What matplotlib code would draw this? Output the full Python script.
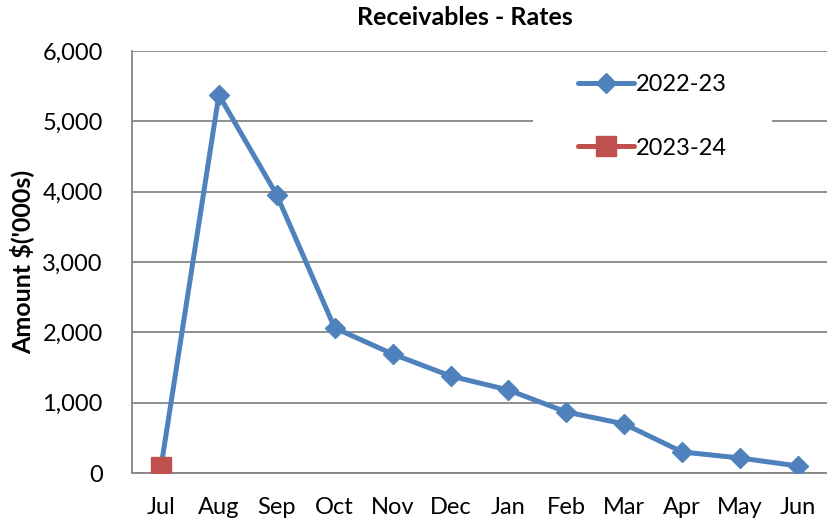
import matplotlib
matplotlib.use('Agg')
import matplotlib.pyplot as plt
from matplotlib.patches import Rectangle
from matplotlib.ticker import FuncFormatter

months = ['Jul', 'Aug', 'Sep', 'Oct', 'Nov', 'Dec', 'Jan', 'Feb', 'Mar', 'Apr', 'May', 'Jun']
fy_2022_23 = [80, 5375, 3953, 2062, 1692, 1379, 1180, 867, 697, 299, 213, 100]
fy_2023_24 = [80]

BLUE = '#4F81BD'
RED = '#C0504D'
GRID = '#868686'

plt.rcParams['font.family'] = ['Lato', 'DejaVu Sans']

fig = plt.figure(figsize=(8.27, 5.23), dpi=100)
ax = fig.add_axes([0.1596, 0.0956, 0.8404, 0.8069])

x = list(range(len(months)))
ax.plot(x, fy_2022_23, color=BLUE, lw=3.6, marker='D', ms=10,
        solid_capstyle='round', label='2022-23', zorder=3)
ax.plot(x[:len(fy_2023_24)], fy_2023_24, color=RED, lw=3.6, marker='s', ms=14,
        solid_capstyle='round', label='2023-24', zorder=4)

ax.set_xlim(-0.5, 11.5)
ax.set_ylim(0, 6000)
ax.set_yticks(range(0, 6001, 1000))
ax.yaxis.set_major_formatter(FuncFormatter(lambda v, p: f'{int(v):,}'))
ax.set_xticks(x)
ax.set_xticklabels(months)

ax.grid(axis='y', color=GRID, lw=1.3)
ax.set_axisbelow(True)
for s in ['top', 'right']:
    ax.spines[s].set_visible(False)
for s in ['left', 'bottom']:
    ax.spines[s].set_color(GRID)
    ax.spines[s].set_linewidth(1.3)
ax.tick_params(axis='both', labelsize=17, length=0, colors='black')
ax.tick_params(axis='y', pad=21)
ax.tick_params(axis='x', pad=17)

fig.text(0.562, 0.967, 'Receivables - Rates', fontsize=18, fontweight='bold',
         ha='center', va='center')
ax.set_ylabel("Amount $('000s)", fontsize=18, fontweight='bold', labelpad=6)

# white legend area that hides the gridline behind it
ax.add_patch(Rectangle((0.577, 0.706), 0.344, 0.27, transform=ax.transAxes,
                       facecolor='white', edgecolor='none', zorder=2))
ax.legend(loc='upper left', bbox_to_anchor=(0.642, 0.945), fontsize=17,
          frameon=False, handlelength=2.35, handletextpad=0.1,
          labelspacing=1.8, borderpad=0, borderaxespad=0)

fig.savefig('out.png', dpi=100)
